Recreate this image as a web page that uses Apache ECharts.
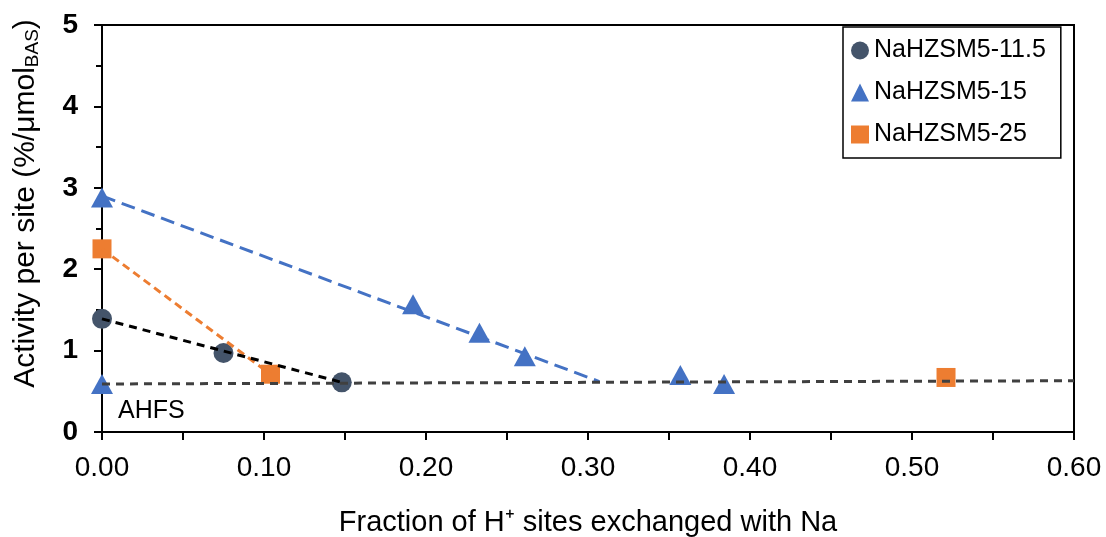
<!DOCTYPE html>
<html>
<head>
<meta charset="utf-8">
<script src="https://cdn.jsdelivr.net/npm/echarts@6/dist/echarts.min.js"></script>
<style>
  html, body { margin: 0; padding: 0; background: #fff; }
  #chart { width: 1106px; height: 537px; }
</style>
</head>
<body>
<div id="chart"></div>
<script>
// Measured activity per acid site vs. fraction of H+ sites exchanged with Na
const na115X = [0.000, 0.075, 0.148];
const na115Y = [1.39, 0.97, 0.61];

const na15X = [0.000, 0.000, 0.192, 0.233, 0.261, 0.357, 0.384];
const na15Y = [2.88, 0.59, 1.57, 1.22, 0.93, 0.70, 0.59];

const na25X = [0.000, 0.104, 0.521];
const na25Y = [2.25, 0.71, 0.67];

// Dashed guide lines (start and end points)
const trend115 = [[0.000, 1.39], [0.148, 0.61]];
const trend15 = [[0.000, 2.90], [0.307, 0.62]];
const trend25 = [[0.000, 2.25], [0.104, 0.71]];
const ahfsLine = [[0.000, 0.59], [0.600, 0.63]];

const xTicks = { min: 0, max: 0.6, step: 0.1 };
const yTicks = { min: 0, max: 5, step: 1 };

const seriesNames = ['NaHZSM5-11.5', 'NaHZSM5-15', 'NaHZSM5-25'];

const zip = (xs, ys) => xs.map((x, i) => [x, ys[i]]);

const FONT = '"Liberation Sans", Arial, sans-serif';

const chart = echarts.init(document.getElementById('chart'));

function guide(data, color, dash, width) {
  return {
    type: 'line',
    data: data,
    symbol: 'none',
    silent: true,
    z: 5,
    lineStyle: { color: color, width: width, type: dash }
  };
}

chart.setOption({
  animation: false,
  backgroundColor: '#fff',
  grid: {
    left: 102, right: 32, top: 25, bottom: 105,
    containLabel: false,
    outerBoundsMode: 'none',
    show: true, borderColor: '#000', borderWidth: 2
  },
  xAxis: {
    type: 'value',
    min: xTicks.min, max: xTicks.max, interval: xTicks.step,
    name: 'Fraction of H\u207A sites exchanged with Na',
    nameLocation: 'middle',
    nameGap: 76,
    nameTextStyle: { fontFamily: FONT, fontSize: 29, color: '#000' },
    axisLine: { lineStyle: { color: '#000', width: 2 } },
    axisTick: { show: true, length: 8, lineStyle: { color: '#000', width: 2 } },
    minorTick: { show: true, splitNumber: 2, length: 8, lineStyle: { color: '#000', width: 2 } },
    splitLine: { show: false },
    axisLabel: {
      margin: 22, fontFamily: FONT, fontSize: 28, color: '#000',
      formatter: v => v.toFixed(2)
    }
  },
  yAxis: {
    type: 'value',
    min: yTicks.min, max: yTicks.max, interval: yTicks.step,
    name: '{a|Activity per site (%/\u03BCmol}{s|BAS}{a|)}',
    nameLocation: 'middle',
    nameGap: 60,
    nameTextStyle: {
      padding: [0, 0, 0, 50],
      rich: {
        a: { fontFamily: FONT, fontSize: 30, color: '#000', lineHeight: 32, verticalAlign: 'middle' },
        s: { fontFamily: FONT, fontSize: 19, color: '#000', lineHeight: 32, verticalAlign: 'bottom', padding: [11, 0, 0, 0] }
      }
    },
    axisLine: { lineStyle: { color: '#000', width: 2 } },
    axisTick: { show: true, length: 8, lineStyle: { color: '#000', width: 2 } },
    minorTick: { show: true, splitNumber: 2, length: 6, lineStyle: { color: '#000', width: 2 } },
    splitLine: { show: false },
    axisLabel: {
      margin: 24, fontFamily: FONT, fontSize: 28, fontWeight: 'bold', color: '#000'
    }
  },
  legend: {
    data: seriesNames,
    selectedMode: false,
    orient: 'vertical',
    left: 843, top: 27,
    padding: [11, 15, 11, 8],
    itemGap: 17,
    itemWidth: 18, itemHeight: 18,
    borderColor: '#000', borderWidth: 1.5,
    backgroundColor: '#fff',
    textStyle: { fontFamily: FONT, fontSize: 25, color: '#000' }
  },
  graphic: [{
    type: 'text',
    left: 118, top: 399,
    style: { text: 'AHFS', fontFamily: FONT, fontSize: 25, fill: '#000' }
  }],
  series: [
    {
      name: seriesNames[0], type: 'scatter', data: zip(na115X, na115Y),
      symbol: 'circle', symbolSize: 20, z: 3,
      itemStyle: { color: '#44546A', opacity: 1 }
    },
    {
      name: seriesNames[1], type: 'scatter', data: zip(na15X, na15Y),
      symbol: 'triangle', symbolSize: [22, 20], z: 3,
      itemStyle: { color: '#4472C4', opacity: 1 }
    },
    {
      name: seriesNames[2], type: 'scatter', data: zip(na25X, na25Y),
      symbol: 'rect', symbolSize: 19, z: 3,
      itemStyle: { color: '#ED7D31', opacity: 1 }
    },
    guide(trend15, '#4472C4', [14, 7], 3),
    guide(trend25, '#ED7D31', [8, 5], 3),
    guide(trend115, '#000000', [8, 6], 3),
    guide(ahfsLine, '#404040', [8, 6], 3)
  ]
});
</script>
</body>
</html>
